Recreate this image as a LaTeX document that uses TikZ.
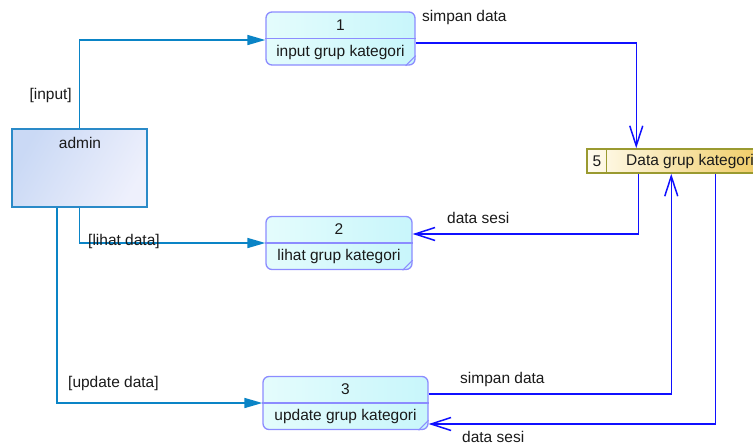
\documentclass[tikz,border=0pt]{standalone}
\usepackage{fontspec}
\setmainfont{Liberation Sans}
\usetikzlibrary{arrows.meta,calc}
\definecolor{admline}{HTML}{0A84C6}
\definecolor{admborder}{HTML}{2A8AC8}
\definecolor{procborder}{HTML}{8C8CFF}
\definecolor{flowblue}{HTML}{1010FF}
\definecolor{storeborder}{HTML}{9A9A30}
\definecolor{txt}{HTML}{1A1A1A}
\definecolor{admA}{HTML}{CAD9F5}
\definecolor{admB}{HTML}{EEF0FC}
\definecolor{procA}{HTML}{E4FCFC}
\definecolor{procB}{HTML}{C8F6FB}
\definecolor{storeA}{HTML}{FFFCF0}
\definecolor{storeB}{HTML}{F0CC66}
\tikzset{
  every node/.style={font=\fontsize{15.5}{17}\selectfont, text=txt, inner sep=0pt},
  admbox/.style={draw=admborder, line width=1.5pt, left color=admA, right color=admB, shading angle=60, minimum width=135pt, minimum height=78pt},
  procbox/.style={draw=procborder, line width=1.3pt, rounded corners=6pt, left color=procA, right color=procB, minimum height=53pt},
  storebox/.style={draw=storeborder, line width=1.5pt, left color=storeA, right color=storeB, minimum width=173pt, minimum height=24pt},
  admflow/.style={draw=admline, line width=1.6pt, -{Triangle[length=18pt,width=10pt]}},
  flow/.style={draw=flowblue, line width=1.5pt, -{Straight Barb[length=20pt,width=13pt,line width=1.5pt]}},
}
\begin{document}
\begin{tikzpicture}[x=1pt,y=-1pt]
\useasboundingbox (0,0) rectangle (753,445);
\begin{scope}
\clip (0,0) rectangle (753,445);
% entity
\node[admbox] (admin) at (79.5,168) {};
\node (admtxt) at (80,143) {admin};
% processes
\node[procbox, minimum width=149pt] (p1) at (340.5,38.5) {};
\node[procbox, minimum width=146pt] (p2) at (339,243) {};
\node[procbox, minimum width=165pt] (p3) at (345.5,403) {};
\foreach \p in {p1,p2,p3}{
  \draw[procborder, line width=1.1pt] (\p.west) -- (\p.east);
  \draw[procborder, line width=1.1pt] ([xshift=-10pt]\p.south east) -- ([yshift=10pt]\p.south east);
}
\node (n1) at (340.5,25.5) {1};
\node (t1) at (340.5,52) {input grup kategori};
\node (n2) at (339,229.5) {2};
\node (t2) at (339,256.5) {lihat grup kategori};
\node (n3) at (345.5,389.5) {3};
\node (t3) at (345.5,416.5) {update grup kategori};
% data store
\node[storebox] (ds) at (673.5,161) {};
\draw[storeborder, line width=1.5pt] ([xshift=20pt]ds.north west) -- ([xshift=20pt]ds.south west);
\node (dsn) at (597,161) {5};
\node[anchor=west] (dst) at (626,161) {Data grup kategori};
% flows from admin
\draw[admflow] (admin.north) |- ([yshift=-1.5pt]p1.west);
\draw[admflow] (admin.south) |- (p2.west);
\draw[admflow] ([xshift=-22.5pt]admin.south) |- (p3.west);
% flows to / from store
\draw[flow] ([yshift=-4.5pt]p1.east) -| ([xshift=50pt]ds.north west);
\draw[flow] ([xshift=52pt]ds.south west) |- ([yshift=9pt]p2.east);
\draw[flow] ([yshift=9pt]p3.east) -| ([xshift=85pt]ds.south west);
\draw[flow] ([xshift=129pt]ds.south west) |- ([yshift=-21pt]p3.east);
% labels
\node[anchor=east] (l1) at (72,95) {[input]};
\node[anchor=west] (l2) at (88,241) {[lihat data]};
\node[anchor=west] (l3) at (68,383) {[update data]};
\node[anchor=west] (l4) at (422,17) {simpan data};
\node[anchor=west] (l5) at (447,218) {data sesi};
\node[anchor=west] (l6) at (460,379) {simpan data};
\node[anchor=west] (l7) at (462,437) {data sesi};
\end{scope}
\end{tikzpicture}
\end{document}
